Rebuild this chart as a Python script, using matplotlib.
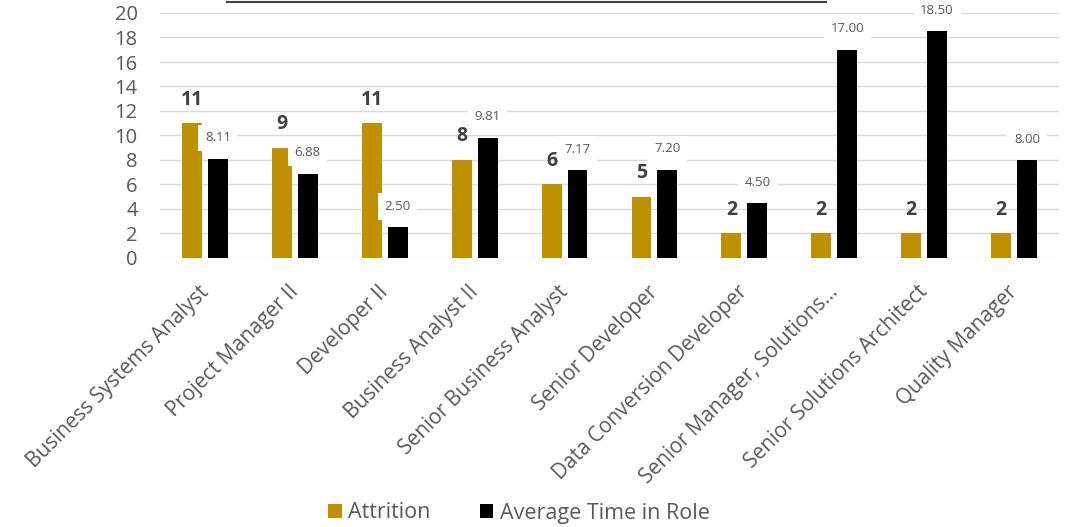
import matplotlib
matplotlib.use("Agg")
import matplotlib.pyplot as plt
import matplotlib.transforms as mtrans
import numpy as np
from matplotlib.lines import Line2D

plt.rcParams["font.family"] = ["Open Sans", "DejaVu Sans"]

# chart data
roles = ["Business Systems Analyst", "Project Manager II", "Developer II",
         "Business Analyst II", "Senior Business Analyst", "Senior Developer",
         "Data Conversion Developer", "Senior Manager, Solutions...",
         "Senior Solutions Architect", "Quality Manager"]
attrition = [11, 9, 11, 8, 6, 5, 2, 2, 2, 2]
avg_time = [8.11, 6.88, 2.50, 9.81, 7.17, 7.20, 4.50, 17.00, 18.50, 8.00]

gold = "#BF9000"
grey_txt = "#595959"

fig = plt.figure(figsize=(10.69, 5.27), dpi=100)
ax = fig.add_axes([160 / 1069, 1 - 258 / 527, 899 / 1069, 245 / 527])

x = np.arange(len(roles))
w = 0.222
off = 0.144

ax.bar(x - off, attrition, w, color=gold, label="Attrition", zorder=2)
ax.bar(x + off, avg_time, w, color="black", label="Average Time in Role", zorder=2)

# bold labels on attrition bars
for xi, v in zip(x, attrition):
    ax.annotate(str(v), (xi - off, v), xytext=(0, 17), textcoords="offset points",
                ha="center", va="center", fontsize=14, fontweight="bold",
                color="#404040", zorder=5)

# boxed labels on the time bars
for xi, v in zip(x, avg_time):
    ax.annotate(f"{v:.2f}", (xi + off, v), xytext=(0, 15), textcoords="offset points",
                ha="center", va="center", fontsize=9.5, color=grey_txt,
                bbox=dict(boxstyle="square,pad=0.5", fc="white", ec="none"),
                zorder=4, annotation_clip=False)

ax.set_xlim(-0.5, len(roles) - 0.5)
ax.set_ylim(0, 20)
ax.set_yticks(range(0, 21, 2))
ax.yaxis.grid(True, color="#d9d9d9", linewidth=1, zorder=0)
ax.set_axisbelow(True)
for s in ax.spines.values():
    s.set_visible(False)
ax.tick_params(axis="both", length=0, labelsize=14.5, labelcolor=grey_txt)
ax.tick_params(axis="y", pad=16)
ax.set_xticks(x)
ax.set_xticklabels(roles, rotation=45, ha="right", rotation_mode="anchor",
                   fontsize=15)
ax.tick_params(axis="x", pad=17)
# nudge the rotated labels a bit to the left
shift = mtrans.ScaledTranslation(-0.07, 0, fig.dpi_scale_trans)
for lbl in ax.get_xticklabels():
    lbl.set_transform(lbl.get_transform() + shift)

ax.legend(loc="center", bbox_to_anchor=(0.4855, 1 - 513 / 527),
          bbox_transform=fig.transFigure, ncol=2, frameon=False,
          fontsize=15.5, handlelength=0.62, handleheight=0.62,
          handletextpad=0.3, columnspacing=2.3, labelcolor=grey_txt)

# line at the very top (title underline)
fig.add_artist(Line2D([227 / 1069, 826 / 1069], [1 - 2 / 527, 1 - 2 / 527],
                      color="#404040", linewidth=1.5))

fig.savefig("out.png", dpi=100)
